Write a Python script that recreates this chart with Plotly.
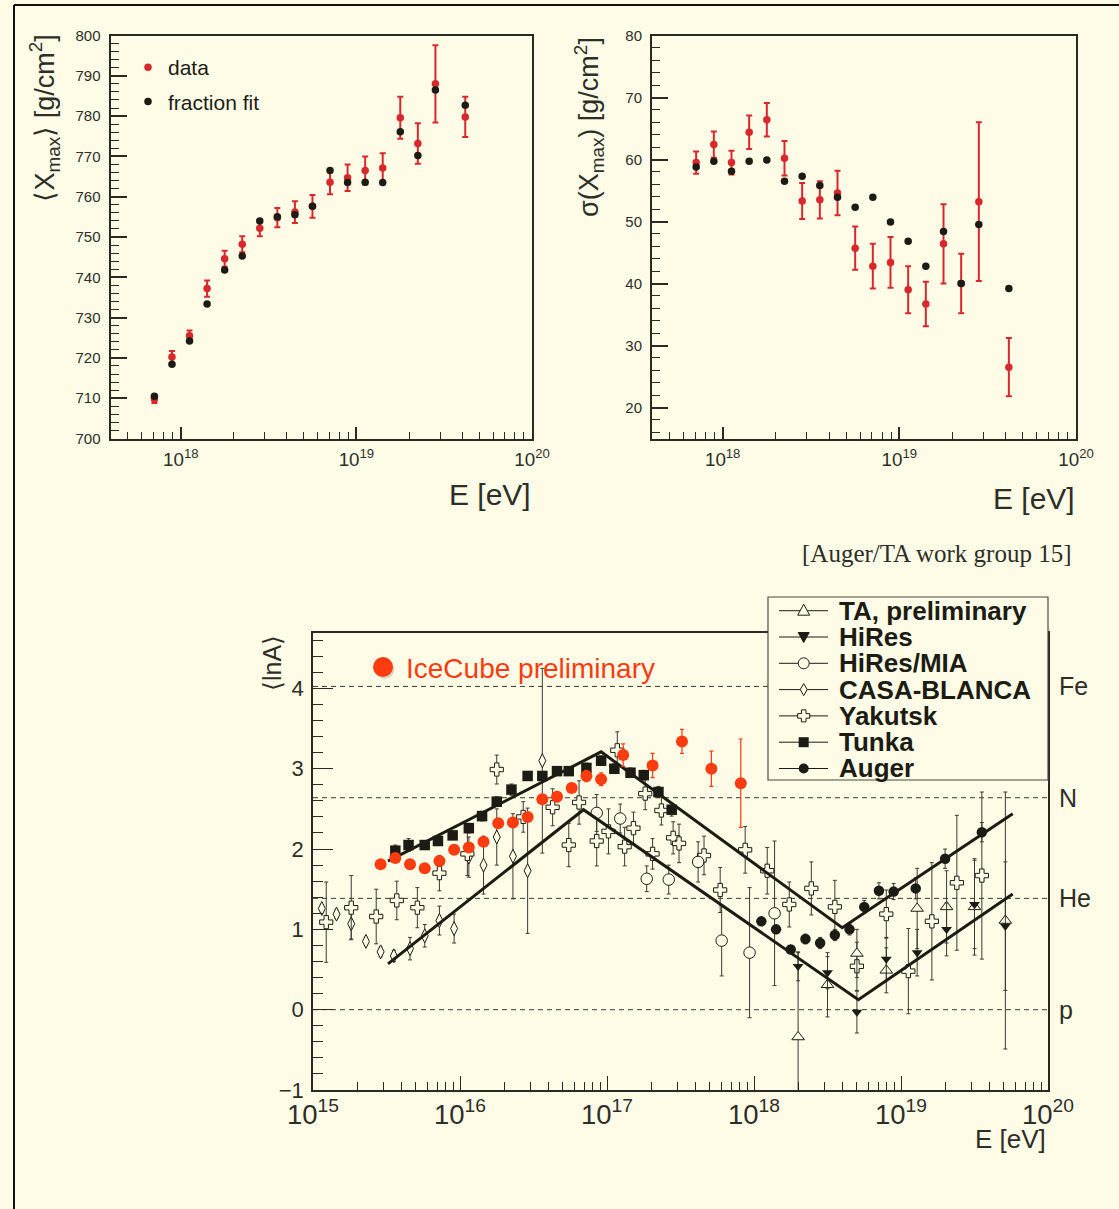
import plotly.graph_objects as go

W, H = 1119, 1209
BG = '#FEFCE6'
INK = '#1C1C14'
AX = '#2A2A22'
TXT = '#2E2E28'
RED = '#D8282B'
ICE = '#FF3B10'
ERR = '#3A3A30'
FONT = 'Liberation Sans, Arial, Helvetica, sans-serif'

# ---------------- top panels (Auger/TA working group) ----------------
lgE_top = [17.85, 17.95, 18.05, 18.15, 18.25, 18.35, 18.45, 18.55, 18.65, 18.75,
           18.85, 18.95, 19.05, 19.15, 19.25, 19.35, 19.45, 19.62]
xmax_data = [709.8, 720.2, 725.5, 737.2, 744.6, 748.2, 752.2, 754.8, 756.2, 757.6,
             763.6, 764.7, 766.5, 767.1, 779.6, 773.2, 788.0, 779.8]
xmax_err = [1.0, 1.5, 1.3, 2.0, 2.0, 2.0, 2.0, 2.4, 2.7, 2.8,
            3.0, 3.3, 3.5, 3.7, 5.2, 5.0, 9.6, 5.0]
xmax_fit = [710.5, 718.4, 724.2, 733.4, 741.8, 745.3, 754.0, 755.0, 755.5, 757.6,
            766.5, 763.5, 763.6, 763.5, 776.1, 770.2, 786.5, 782.7]
sigma_data = [59.5, 62.4, 59.5, 64.4, 66.4, 60.2, 53.3, 53.5, 54.6, 45.7,
              42.8, 43.4, 39.0, 36.7, 46.4, 40.0, 53.2, 26.5]
sigma_err = [1.8, 2.1, 1.9, 2.7, 2.7, 2.8, 2.9, 3.0, 3.6, 3.5,
             3.6, 4.1, 3.8, 3.6, 6.4, 4.8, 12.8, 4.7]
sigma_fit = [58.8, 59.7, 58.1, 59.7, 59.9, 56.5, 57.3, 55.8, 53.9, 52.3,
             53.9, 49.9, 46.8, 42.8, 48.4, 40.0, 49.5, 39.2]

# ---------------- bottom panel: <lnA> ----------------
ice_lgE = [15.46, 15.56, 15.66, 15.76, 15.86, 15.96, 16.06, 16.16, 16.26, 16.36, 16.46,
           16.56, 16.66, 16.76, 16.86, 16.96, 17.11, 17.31, 17.51, 17.71, 17.91]
ice_lnA = [1.81, 1.89, 1.81, 1.76, 1.85, 1.99, 2.02, 2.09, 2.32, 2.33, 2.40,
           2.62, 2.65, 2.76, 2.91, 2.87, 3.17, 3.04, 3.34, 3.00, 2.82]
ice_err = [0.03, 0.03, 0.03, 0.03, 0.03, 0.03, 0.03, 0.03, 0.04, 0.04, 0.04,
           0.05, 0.06, 0.05, 0.07, 0.08, 0.14, 0.15, 0.15, 0.22, 0.55]

tunka_lgE = [15.56, 15.65, 15.76, 15.85, 15.95, 16.06, 16.15, 16.25, 16.35, 16.46,
             16.56, 16.66, 16.74, 16.86, 16.96, 17.05, 17.16, 17.25, 17.35, 17.44]
tunka_lnA = [1.98, 2.05, 2.05, 2.10, 2.17, 2.26, 2.41, 2.59, 2.74, 2.91,
             2.91, 2.97, 2.97, 3.01, 3.10, 3.00, 2.95, 2.92, 2.71, 2.49]
tunka_err = [0.07, 0.08, 0.05, 0.05, 0.05, 0.06, 0.06, 0.06, 0.07, 0.05,
             0.05, 0.05, 0.05, 0.06, 0.06, 0.06, 0.06, 0.06, 0.07, 0.08]

auger_lgE = [18.05, 18.15, 18.25, 18.35, 18.45, 18.55, 18.65, 18.75, 18.85, 18.95, 19.10, 19.30, 19.55]
auger_lnA = [1.10, 1.00, 0.75, 0.88, 0.83, 0.93, 1.00, 1.28, 1.48, 1.47, 1.51, 1.88, 2.21]
auger_err = [0.04, 0.05, 0.05, 0.06, 0.07, 0.07, 0.07, 0.08, 0.10, 0.10, 0.13, 0.12, 0.12]

hires_lgE = [18.30, 18.50, 18.70, 18.90, 19.11, 19.31, 19.50, 19.71]
hires_lnA = [0.54, 0.46, -0.03, 0.63, 0.71, 1.00, 1.31, 1.04]
hires_err = [0.18, 0.20, 0.26, 0.27, 0.29, 0.33, 0.55, 0.80]

ta_lgE = [18.30, 18.50, 18.70, 18.90, 19.11, 19.31, 19.50, 19.71]
ta_lnA = [-0.34, 0.31, 0.70, 0.49, 1.26, 1.28, 1.28, 1.11]
ta_err = [1.05, 0.40, 0.30, 0.28, 0.50, 0.45, 0.60, 1.60]

mia_lgE = [16.93, 17.09, 17.27, 17.42, 17.62, 17.78, 17.97, 18.14]
mia_lnA = [2.45, 2.38, 1.63, 1.62, 1.84, 0.86, 0.71, 1.20]
mia_err = [0.23, 0.18, 0.16, 0.18, 0.25, 0.44, 0.81, 0.90]

casa_lgE = [15.06, 15.16, 15.26, 15.36, 15.46, 15.55, 15.66, 15.76, 15.86, 15.96,
            16.06, 16.16, 16.25, 16.36, 16.46, 16.56]
casa_lnA = [1.26, 1.19, 1.07, 0.85, 0.72, 0.67, 0.76, 0.92, 1.11, 1.01,
            1.90, 1.80, 2.15, 1.91, 1.73, 3.10]
casa_err = [0.05, 0.05, 0.19, 0.05, 0.06, 0.07, 0.14, 0.14, 0.18, 0.18,
            0.25, 0.36, 0.35, 0.53, 0.78, 1.15]

yak_lgE = [15.09, 15.26, 15.43, 15.57, 15.71, 15.86, 16.05, 16.25, 16.43, 16.63,
           16.74, 16.81, 16.93, 17.01, 17.07, 17.12, 17.18, 17.26, 17.31, 17.37,
           17.45, 17.49, 17.66, 17.77, 17.94, 18.09, 18.24, 18.39, 18.55, 18.70,
           18.90, 19.05, 19.21, 19.38, 19.55]
yak_lnA = [1.09, 1.27, 1.16, 1.36, 1.27, 1.70, 1.94, 2.99, 2.40, 2.52,
           2.05, 2.58, 2.10, 2.22, 3.23, 2.03, 2.26, 2.69, 1.94, 2.48,
           2.14, 2.07, 1.92, 1.49, 1.99, 1.73, 1.31, 1.51, 1.28, 0.54,
           1.19, 0.48, 1.10, 1.58, 1.67]
yak_err = [0.50, 0.40, 0.34, 0.24, 0.25, 0.22, 0.27, 0.18, 0.19, 0.23,
           0.27, 0.27, 0.31, 0.28, 0.23, 0.24, 0.20, 0.20, 0.19, 0.18,
           0.20, 0.24, 0.24, 0.28, 0.29, 0.29, 0.28, 0.33, 0.33, 0.30,
           0.30, 0.53, 0.73, 0.84, 1.04]

fit_upper_lgE = [15.51, 16.96, 18.60, 19.76]
fit_upper_lnA = [1.85, 3.21, 1.02, 2.44]
fit_lower_lgE = [15.51, 16.84, 18.71, 19.76]
fit_lower_lnA = [0.57, 2.49, 0.125, 1.44]

ref_lnA = [4.025, 2.639, 1.386, 0.0]
ref_labels = ['Fe', 'N', 'He', 'p']

legend_names = ['TA, preliminary', 'HiRes', 'HiRes/MIA', 'CASA-BLANCA', 'Yakutsk', 'Tunka', 'Auger']


def E(lg):
    return [10 ** v for v in lg]


def px(x):
    return x / W


def py(y):
    return 1 - y / H


fig = go.Figure()

# ---- top-left: <Xmax>
fig.add_trace(go.Scatter(x=E(lgE_top), y=xmax_data, mode='markers', name='data', legendgroup='d',
                         marker=dict(color=RED, size=7.5),
                         error_y=dict(type='data', array=xmax_err, color=RED, thickness=2, width=3),
                         xaxis='x', yaxis='y'))
fig.add_trace(go.Scatter(x=E(lgE_top), y=xmax_fit, mode='markers', name='fraction fit', legendgroup='f',
                         marker=dict(color=INK, size=7.5), xaxis='x', yaxis='y'))
# ---- top-right: sigma(Xmax)
fig.add_trace(go.Scatter(x=E(lgE_top), y=sigma_data, mode='markers', name='data', showlegend=False,
                         marker=dict(color=RED, size=7.5),
                         error_y=dict(type='data', array=sigma_err, color=RED, thickness=2, width=3),
                         xaxis='x2', yaxis='y2'))
fig.add_trace(go.Scatter(x=E(lgE_top), y=sigma_fit, mode='markers', name='fraction fit', showlegend=False,
                         marker=dict(color=INK, size=7.5), xaxis='x2', yaxis='y2'))


# ---- bottom: <lnA>
def err(arr, color=ERR, th=1.0):
    return dict(type='data', array=arr, color=color, thickness=th, width=2)


def add_b(lg, v, e, name, symbol, size, fill, lw=1.0):
    fig.add_trace(go.Scatter(x=E(lg), y=v, mode='markers', name=name, showlegend=False,
                             marker=dict(symbol=symbol, size=size, color=fill,
                                         line=dict(color=INK, width=lw)),
                             error_y=err(e), xaxis='x3', yaxis='y3'))


add_b(casa_lgE, casa_lnA, casa_err, 'CASA-BLANCA', 'diamond-tall', 10, BG)
add_b(yak_lgE, yak_lnA, yak_err, 'Yakutsk', 'cross', 11, BG)
add_b(mia_lgE, mia_lnA, mia_err, 'HiRes/MIA', 'circle', 11.5, BG)
add_b(ta_lgE, ta_lnA, ta_err, 'TA, preliminary', 'triangle-up', 11, BG)
add_b(hires_lgE, hires_lnA, hires_err, 'HiRes', 'triangle-down', 9.5, INK, 0)
add_b(tunka_lgE, tunka_lnA, tunka_err, 'Tunka', 'square', 10.5, INK, 0)
add_b(auger_lgE, auger_lnA, auger_err, 'Auger', 'circle', 10.5, INK, 0)

for lg, v in [(fit_upper_lgE, fit_upper_lnA), (fit_lower_lgE, fit_lower_lnA)]:
    fig.add_trace(go.Scatter(x=E(lg), y=v, mode='lines', showlegend=False,
                             line=dict(color=INK, width=3), xaxis='x3', yaxis='y3'))

fig.add_trace(go.Scatter(x=E(ice_lgE), y=ice_lnA, mode='markers', name='IceCube preliminary', showlegend=False,
                         marker=dict(color=ICE, size=12),
                         error_y=err(ice_err, ICE, 1.2), xaxis='x3', yaxis='y3'))

# ---------------- axes ----------------
tickfont_top = dict(family=FONT, size=15, color=TXT)
top_y_dom = [py(438.5), py(35.5)]


def top_x(domain, anchor):
    return dict(domain=domain, anchor=anchor, type='log', range=[17.6, 20], dtick=1,
                exponentformat='power', showline=True, linecolor=AX, linewidth=2, mirror=True,
                ticks='inside', ticklen=12, tickwidth=1.5, tickcolor=AX,
                minor=dict(ticks='inside', ticklen=7, tickwidth=1.2, tickcolor=AX, dtick='D1'),
                showgrid=False, zeroline=False, tickfont=tickfont_top, ticklabelstandoff=4,
                automargin=False)


def top_y(rng, anchor):
    return dict(domain=top_y_dom, anchor=anchor, range=rng, dtick=10, tick0=0,
                showline=True, linecolor=AX, linewidth=2, mirror=True,
                ticks='inside', ticklen=16, tickwidth=1.5, tickcolor=AX,
                minor=dict(ticks='inside', ticklen=8, tickwidth=1.2, tickcolor=AX, dtick=2, tick0=0),
                showgrid=False, zeroline=False, tickfont=tickfont_top, ticklabelstandoff=5,
                automargin=False)


layout = dict(
    template='none',
    width=W, height=H, margin=dict(l=0, r=0, t=0, b=0, pad=0), autosize=False,
    paper_bgcolor=BG, plot_bgcolor=BG,
    font=dict(family=FONT, color=TXT),
    xaxis=top_x([px(110.5), px(532)], 'y'),
    yaxis=top_y([700, 800], 'x'),
    xaxis2=top_x([px(652), px(1076)], 'y2'),
    yaxis2=top_y([15, 80], 'x2'),
    xaxis3=dict(domain=[px(313), px(1048)], anchor='y3', type='log', range=[15, 20], dtick=1,
                exponentformat='power', showline=True, linecolor=AX, linewidth=1.5, mirror=True,
                ticks='inside', ticklen=14, tickwidth=1.3, tickcolor=AX,
                minor=dict(ticks='inside', ticklen=8, tickwidth=1.1, tickcolor=AX, dtick='D1'),
                showgrid=False, zeroline=False, tickfont=dict(family=FONT, size=22, color=TXT),
                ticklabelstandoff=0, automargin=False),
    yaxis3=dict(domain=[py(1090), py(633)], anchor='x3', range=[-1, 4.69], dtick=1, tick0=0,
                showline=True, linecolor=AX, linewidth=1.5, mirror=True,
                ticks='inside', ticklen=20, tickwidth=1.3, tickcolor=AX,
                minor=dict(ticks='inside', ticklen=10, tickwidth=1.1, tickcolor=AX, dtick=0.2, tick0=0),
                showgrid=False, zeroline=False, tickfont=dict(family=FONT, size=22, color=TXT),
                ticklabelstandoff=3, automargin=False),
    showlegend=True,
    legend=dict(x=px(128), y=py(47), xanchor='left', yanchor='top', bgcolor='rgba(0,0,0,0)',
                font=dict(family=FONT, size=21, color=INK), tracegroupgap=4, borderwidth=0),
)
fig.update_layout(**layout)

# ---------------- shapes ----------------
shapes = []
# outer frame of the slide
shapes.append(dict(type='line', xref='paper', yref='paper', x0=px(14), x1=1, y0=py(5), y1=py(5),
                   line=dict(color='#111', width=2), layer='above'))
shapes.append(dict(type='line', xref='paper', yref='paper', x0=px(14), x1=px(14), y0=0, y1=py(5),
                   line=dict(color='#111', width=2), layer='above'))
# reference composition lines
for v in ref_lnA:
    shapes.append(dict(type='line', xref='x3 domain', yref='y3', x0=0, x1=1, y0=v, y1=v,
                       line=dict(color='#3A3A30', width=1, dash='5px,4px'), layer='below'))

# IceCube label dot
shapes.append(dict(type='circle', xref='paper', yref='paper', x0=px(374.5), x1=px(394.5),
                   y0=py(679), y1=py(659), fillcolor='#DAD8C4', line=dict(width=0), layer='above'))
shapes.append(dict(type='circle', xref='paper', yref='paper', x0=px(373), x1=px(393),
                   y0=py(677), y1=py(657), fillcolor=ICE, line=dict(width=0), layer='above'))

# manual legend of the bottom panel
LX0, LX1, LY0, LY1 = 768, 1048, 597, 780
shapes.append(dict(type='rect', xref='paper', yref='paper', x0=px(LX0), x1=px(LX1), y0=py(LY1), y1=py(LY0),
                   fillcolor=BG, line=dict(color='#4A4A40', width=1.2), layer='above'))


def path(pts):
    return 'M ' + ' L '.join('%.6f,%.6f' % (px(a), py(b)) for a, b in pts) + ' Z'


cx = 803.7
annotations = []
for i, name in enumerate(legend_names):
    yc = 610.7 + 26.3 * i
    shapes.append(dict(type='line', xref='paper', yref='paper', x0=px(779), x1=px(828), y0=py(yc), y1=py(yc),
                       line=dict(color=INK, width=1), layer='above'))
    if i == 0:
        shp = dict(type='path', path=path([(cx, yc - 6.5), (cx - 6, yc + 4.5), (cx + 6, yc + 4.5)]),
                   fillcolor=BG, line=dict(color=INK, width=1))
    elif i == 1:
        shp = dict(type='path', path=path([(cx - 5.5, yc - 4.5), (cx + 5.5, yc - 4.5), (cx, yc + 5.5)]),
                   fillcolor=INK, line=dict(color=INK, width=1))
    elif i == 2:
        shp = dict(type='circle', x0=px(cx - 5.5), x1=px(cx + 5.5), y0=py(yc + 5.5), y1=py(yc - 5.5),
                   fillcolor=BG, line=dict(color=INK, width=1))
    elif i == 3:
        shp = dict(type='path', path=path([(cx, yc - 6), (cx + 3.5, yc), (cx, yc + 6), (cx - 3.5, yc)]),
                   fillcolor=BG, line=dict(color=INK, width=1))
    elif i == 4:
        a, b = 2.3, 6.0
        shp = dict(type='path', path=path([(cx - a, yc - b), (cx + a, yc - b), (cx + a, yc - a), (cx + b, yc - a),
                                           (cx + b, yc + a), (cx + a, yc + a), (cx + a, yc + b), (cx - a, yc + b),
                                           (cx - a, yc + a), (cx - b, yc + a), (cx - b, yc - a), (cx - a, yc - a)]),
                   fillcolor=BG, line=dict(color=INK, width=1))
    elif i == 5:
        shp = dict(type='rect', x0=px(cx - 5), x1=px(cx + 5), y0=py(yc + 5), y1=py(yc - 5),
                   fillcolor=INK, line=dict(color=INK, width=0))
    else:
        shp = dict(type='circle', x0=px(cx - 5), x1=px(cx + 5), y0=py(yc + 5), y1=py(yc - 5),
                   fillcolor=INK, line=dict(color=INK, width=0))
    shp.update(xref='paper', yref='paper', layer='above')
    shapes.append(shp)
    annotations.append(dict(xref='paper', yref='paper', x=px(837), y=py(yc), xanchor='left', yanchor='middle',
                            text='<b>%s</b>' % name, showarrow=False,
                            font=dict(family=FONT, size=26, color=INK)))

fig.update_layout(shapes=shapes)


# ---------------- text ----------------
def ann(x, y, text, size, xanchor='center', yanchor='middle', angle=0, color=TXT, family=FONT, yref='paper'):
    annotations.append(dict(xref='paper', yref=yref, x=x, y=y, text=text, showarrow=False, xanchor=xanchor,
                            yanchor=yanchor, textangle=angle, font=dict(family=family, size=size, color=color)))


ann(px(44), py(33), '⟨X<sub>max</sub>⟩ [g/cm<sup>2</sup>]', 27, yanchor='top', angle=-90)
ann(px(589), py(35), 'σ(X<sub>max</sub>) [g/cm<sup>2</sup>]', 27, yanchor='top', angle=-90)
ann(px(533), py(494), 'E [eV]', 30, xanchor='right')
ann(px(1077), py(498), 'E [eV]', 30, xanchor='right')
ann(px(1073), py(553), '[Auger/TA work group 15]', 25, xanchor='right', family='Liberation Serif, Times New Roman, serif')
ann(px(272), py(633), '⟨lnA⟩', 25, yanchor='top', angle=-90)
ann(px(404), py(668), 'IceCube preliminary', 28, xanchor='left', color=ICE)
ann(px(1048), py(1139), 'E [eV]', 26, xanchor='right')
for v, lab in zip(ref_lnA, ref_labels):
    ann(px(1057), v, lab, 25, xanchor='left', yref='y3')

fig.update_layout(annotations=annotations)

fig.write_html('out.html')
